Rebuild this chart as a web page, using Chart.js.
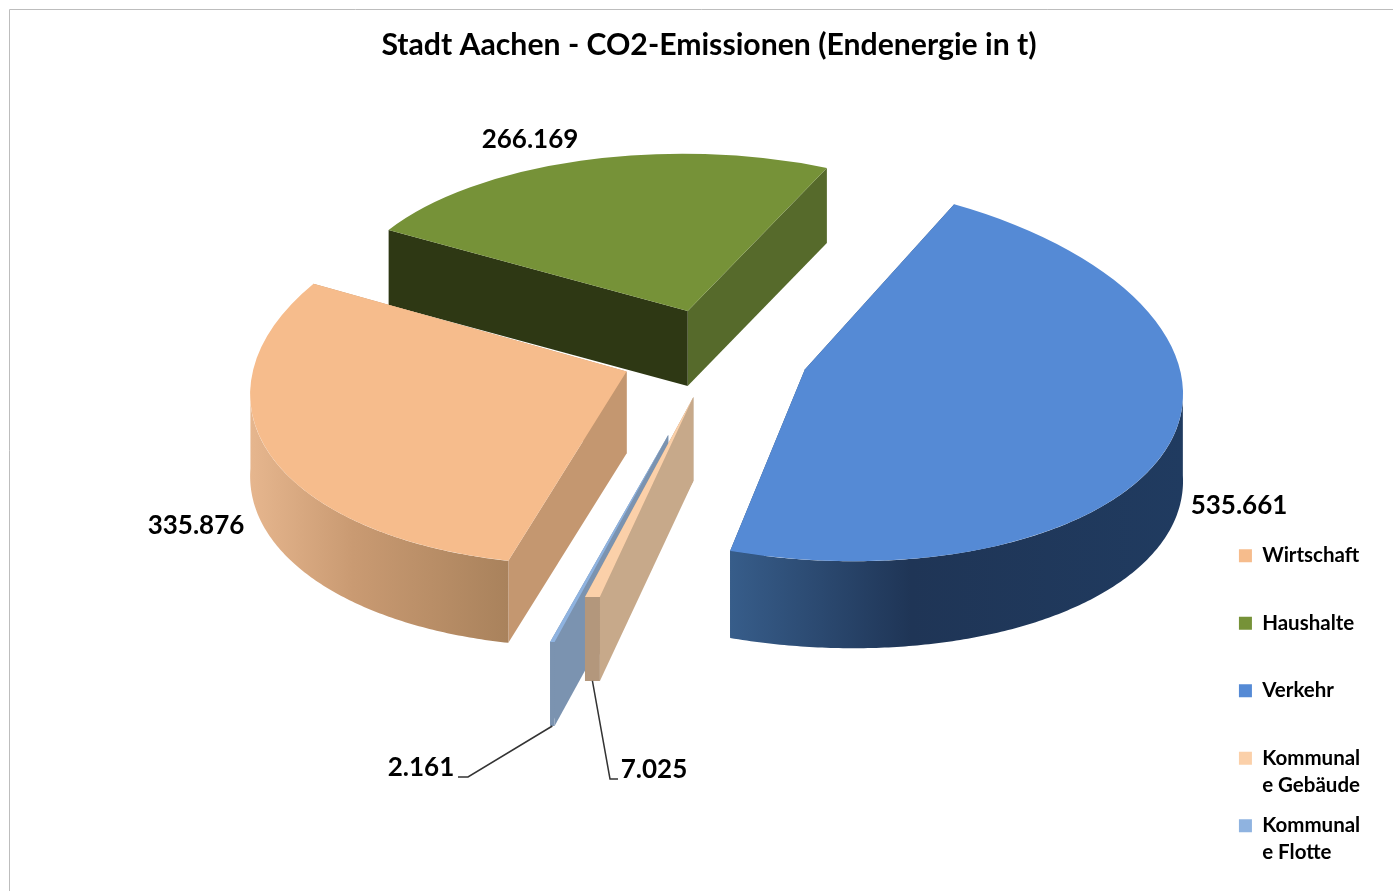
<!DOCTYPE html>
<html>
<head>
<meta charset="utf-8">
<title>Stadt Aachen - CO2-Emissionen</title>
<script src="https://cdn.jsdelivr.net/npm/chart.js@4"></script>
<style>
    html, body { margin: 0; padding: 0; background: #fff; }
    #wrap { width: 1393px; height: 891px; }
</style>
</head>
<body>
<div id="wrap"><canvas id="pie"></canvas></div>
<script>
// Data
const sectors = ['Wirtschaft', 'Haushalte', 'Verkehr', 'Kommunale Gebäude', 'Kommunale Flotte'];
const emissions = [335876, 266169, 535661, 7025, 2161];
const legendLines = [['Wirtschaft', ''], ['Haushalte', ''], ['Verkehr', ''], ['Kommunal', 'e Gebäude'], ['Kommunal', 'e Flotte']];
const chartTitle = 'Stadt Aachen - CO2-Emissionen (Endenergie in t)';

// Look of the slices
const topColors = ['#f6bc8c', '#769238', '#558ad5', '#fbd0a9', '#8fb3e0'];
const startWallColors = ['#c49770', '#2e3814', '#2a4a72', '#c7a98a', '#7b93b0'];
const endWallColors = ['#c49770', '#566a2b', '#2a4a72', '#b3977c', '#7b93b0'];
const rimStops = [
    ['#e6b68e', '#c99a72', '#a9825c'],
    ['#566a2b', '#566a2b', '#566a2b'],
    ['#375d8a', '#1f3556', '#203b60'],
    ['#b3977c', '#b3977c', '#b3977c'],
    ['#7b93b0', '#7b93b0', '#7b93b0']
];
const explode = [96, 98, 94, 92, 177];
const depth = [82, 75, 87, 84, 84];
const tilt = 0.47;
// perspective is faked per slice with a 2x2 matrix [a, b, c, d]
const warp = [
    [0.995, -0.04, -0.04, 0.51],
    [0.915, 0.02, -0.003, 0.416],
    [1, 0.03, 0.05, 0.505],
    [1.06, -0.007, -0.13, 0.513],
    [1.05, -0.024, -0.13, 0.532]
];
const drawOrder = [1, 0, 2, 4, 3];

// Layout
const pieX = 716, pieY = 355, pieRadius = 378;
const labelX = [196, 530, 1239, 654, 421];
const labelY = [526, 140, 506, 770, 768];
const labelFont = 'bold 26px Lato';

function slicePose(el, i) {
    const mid = (el.startAngle + el.endAngle) / 2;
    const x = pieX + explode[i] * Math.cos(mid);
    const y = pieY + explode[i] * tilt * Math.sin(mid);
    const [a, b, c, d] = warp[i];
    const R = el.outerRadius;
    return {
        x, y, d: depth[i], m: warp[i],
        pt: t => [x + R * (a * Math.cos(t) + b * Math.sin(t)), y + R * (c * Math.cos(t) + d * Math.sin(t))]
    };
}

function drawWall(ctx, p, angle, color) {
    const [ex, ey] = p.pt(angle);
    ctx.fillStyle = color;
    ctx.beginPath();
    ctx.moveTo(p.x, p.y);
    ctx.lineTo(ex, ey);
    ctx.lineTo(ex, ey + p.d);
    ctx.lineTo(p.x, p.y + p.d);
    ctx.closePath();
    ctx.fill();
}

function drawRim(ctx, p, a1, a2, stops) {
    // only the half of the ellipse facing the viewer
    const TAU = Math.PI * 2;
    let s = a1 % TAU;
    if (s < 0) s += TAU;
    const e = s + (a2 - a1);
    [[0, Math.PI], [TAU, TAU + Math.PI]].forEach(([lo, hi]) => {
        const from = Math.max(s, lo), to = Math.min(e, hi);
        if (to <= from) return;
        const pts = [];
        const n = Math.max(2, Math.ceil((to - from) * 90));
        for (let k = 0; k <= n; k++) pts.push(p.pt(from + (to - from) * k / n));
        const xs = pts.map(q => q[0]);
        const grad = ctx.createLinearGradient(Math.min(...xs), 0, Math.max(...xs), 0);
        grad.addColorStop(0, stops[0]);
        grad.addColorStop(0.4, stops[1]);
        grad.addColorStop(1, stops[2]);
        ctx.fillStyle = grad;
        ctx.beginPath();
        pts.forEach((q, k) => k ? ctx.lineTo(q[0], q[1]) : ctx.moveTo(q[0], q[1]));
        pts.slice().reverse().forEach(q => ctx.lineTo(q[0], q[1] + p.d));
        ctx.closePath();
        ctx.fill();
    });
}

const pie3d = {
    id: 'pie3d',
    beforeDraw(chart) {
        const ctx = chart.ctx;
        ctx.save();
        ctx.strokeStyle = '#bdbdbd';
        ctx.lineWidth = 1;
        ctx.beginPath();
        ctx.moveTo(9.5, chart.height);
        ctx.lineTo(9.5, 9.5);
        ctx.lineTo(chart.width, 9.5);
        ctx.stroke();
        ctx.restore();
    },
    beforeDatasetsDraw(chart) {
        const ctx = chart.ctx;
        const arcs = chart.getDatasetMeta(0).data;
        drawOrder.forEach(i => {
            const el = arcs[i];
            const p = slicePose(el, i);
            const [a, b, c, d] = p.m;
            drawWall(ctx, p, el.endAngle, endWallColors[i]);
            drawWall(ctx, p, el.startAngle, startWallColors[i]);
            drawRim(ctx, p, el.startAngle, el.endAngle, rimStops[i]);
            ctx.save();
            ctx.translate(p.x, p.y);
            ctx.transform(a, c, b, d, 0, 0);
            ctx.translate(-el.x, -el.y);
            el.draw(ctx);
            ctx.restore();
        });
        return false;
    },
    afterDraw(chart) {
        const ctx = chart.ctx;
        const arcs = chart.getDatasetMeta(0).data;
        ctx.save();
        ctx.fillStyle = '#000';
        ctx.font = labelFont;
        ctx.textAlign = 'center';
        ctx.textBaseline = 'middle';
        emissions.forEach((v, i) => {
            ctx.fillText(v.toLocaleString('de-DE'), labelX[i], labelY[i]);
        });
        // leader lines of the two small slices
        ctx.strokeStyle = '#333';
        ctx.lineWidth = 1.5;
        [[3, 610, 618], [4, 468, 458]].forEach(([i, elbow, end]) => {
            const el = arcs[i];
            const p = slicePose(el, i);
            const [ox, oy] = p.pt((el.startAngle + el.endAngle) / 2);
            ctx.beginPath();
            ctx.moveTo(ox, oy + p.d);
            ctx.lineTo(elbow, labelY[i] + 9);
            ctx.lineTo(end, labelY[i] + 9);
            ctx.stroke();
        });
        ctx.restore();
    }
};

new Chart(document.getElementById('pie').getContext('2d'), {
    type: 'pie',
    data: {
        labels: sectors,
        datasets: [{
            data: emissions,
            backgroundColor: topColors,
            borderWidth: 0,
            radius: pieRadius
        }]
    },
    options: {
        responsive: true,
        maintainAspectRatio: false,
        animation: false,
        rotation: 196,
        layout: { padding: { left: 48, right: 23, top: 27, bottom: 8 } },
        plugins: {
            tooltip: { enabled: false },
            title: {
                display: true,
                text: chartTitle,
                color: '#000',
                font: { family: 'Lato', size: 30.2, weight: 'bold' },
                padding: { top: 0, bottom: 10 }
            },
            legend: {
                position: 'right',
                align: 'end',
                labels: {
                    boxWidth: 13,
                    boxHeight: 13,
                    padding: 13.5,
                    color: '#000',
                    font: { family: 'Lato', size: 20.5, weight: 'bold', lineHeight: 1.317 },
                    generateLabels: chart => legendLines.map((lines, i) => ({
                        text: lines,
                        fillStyle: topColors[i],
                        strokeStyle: topColors[i],
                        fontColor: '#000',
                        lineWidth: 0,
                        hidden: false,
                        index: i
                    }))
                }
            }
        }
    },
    plugins: [pie3d]
});
</script>
</body>
</html>
